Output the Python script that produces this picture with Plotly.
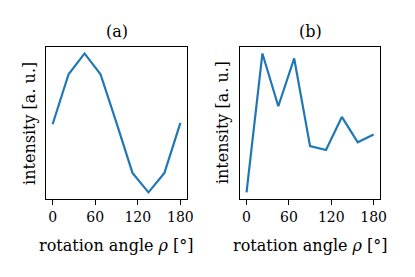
import plotly.graph_objects as go

angles = [0, 22.5, 45, 67.5, 90, 112.5, 135, 157.5, 180]
intensity_a = [0.49, 0.85, 1.0, 0.85, 0.50, 0.14, 0.0, 0.14, 0.50]
intensity_b = [0.0, 1.0, 0.62, 0.964, 0.333, 0.305, 0.543, 0.36, 0.417]
xticks = [0, 60, 120, 180]
panel_titles = ["(a)", "(b)"]
ylabel = "intensity [a. u.]"
xlabel = "rotation angle <i>ρ</i> [°]"

W, H = 415, 277
FONT = "DejaVu Serif"
BLUE = "#1f77b4"
FS = 16
TFS = 14

doms_x = [(47 / W, 190 / W), (244.3 / W, 386.5 / W)]
dom_y = (1 - 199.3 / H, 1 - 46.5 / H)

fig = go.Figure()
for i, ys in enumerate([intensity_a, intensity_b]):
    xa = "x" if i == 0 else "x2"
    ya = "y" if i == 0 else "y2"
    fig.add_trace(go.Scatter(x=angles, y=ys, mode="lines", xaxis=xa, yaxis=ya,
                             line=dict(color=BLUE, width=2.2), showlegend=False,
                             hoverinfo="skip"))

axis_common = dict(showline=True, linecolor="black", linewidth=1, mirror=True,
                   showgrid=False, zeroline=False)
for i in range(2):
    suffix = "" if i == 0 else "2"
    fig.update_layout(**{
        f"xaxis{suffix}": dict(domain=doms_x[i], range=[-9, 189], tickvals=xticks,
                               ticks="outside", ticklen=4.5, tickwidth=0.9, tickcolor="black",
                               tickfont=dict(family=FONT, size=TFS, color="black"),
                               anchor="y" + suffix, **axis_common),
        f"yaxis{suffix}": dict(domain=dom_y, range=[-0.05, 1.05], showticklabels=False,
                               ticks="", anchor="x" + suffix, **axis_common),
    })

annotations = []
for i in range(2):
    cx = (doms_x[i][0] + doms_x[i][1]) / 2
    annotations.append(dict(text=panel_titles[i], x=cx, y=1 - 31 / H, xref="paper", yref="paper",
                            showarrow=False, xanchor="center", yanchor="middle",
                            font=dict(family=FONT, size=FS, color="black")))
    annotations.append(dict(text=xlabel, x=cx, y=1 - 245 / H, xref="paper", yref="paper",
                            showarrow=False, xanchor="center", yanchor="middle",
                            font=dict(family=FONT, size=FS, color="black")))
    ylx = [30.5, 227][i]
    annotations.append(dict(text=ylabel, x=ylx / W, y=(dom_y[0] + dom_y[1]) / 2,
                            xref="paper", yref="paper", showarrow=False, textangle=-90,
                            xanchor="center", yanchor="middle",
                            font=dict(family=FONT, size=FS, color="black")))

fig.update_layout(width=W, height=H, margin=dict(l=0, r=0, t=0, b=0),
                  paper_bgcolor="white", plot_bgcolor="white",
                  annotations=annotations)

fig.write_html("out.html", config={"displayModeBar": False},
               post_script="document.body.style.margin='0';document.body.style.padding='0';")
